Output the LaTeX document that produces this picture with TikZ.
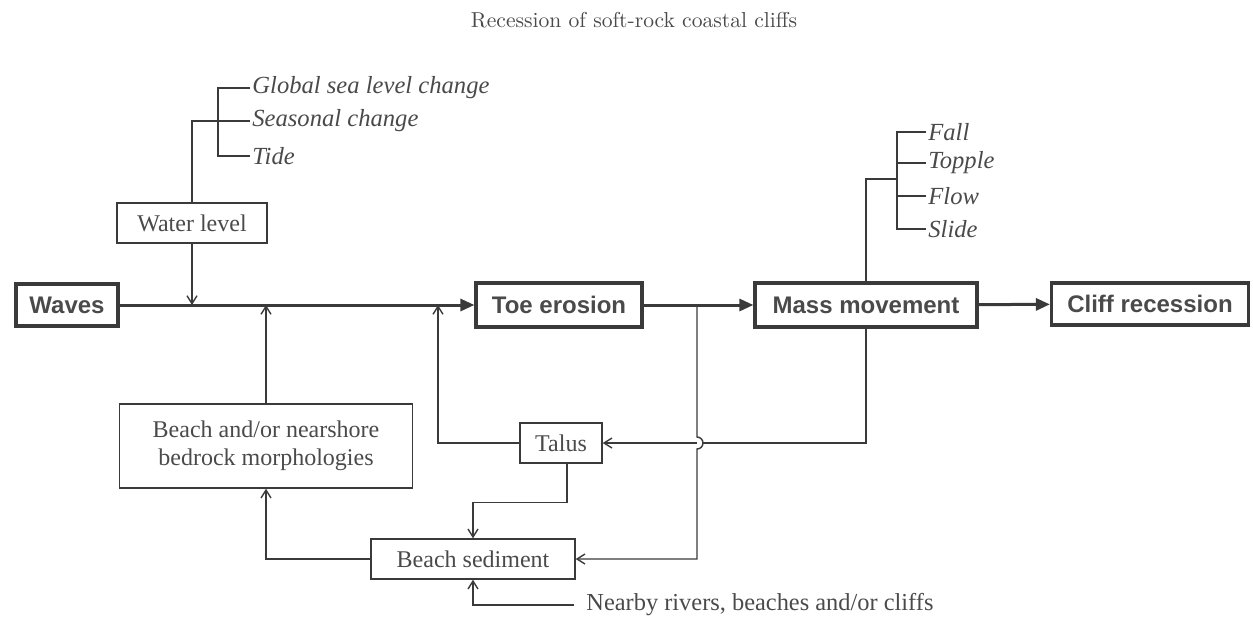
\documentclass[tikz,border=0pt]{standalone}
\usepackage{fontspec}
\usepackage{xcolor}
\usepackage{tikz}
\usetikzlibrary{arrows.meta}
\newfontfamily\serifrm{Liberation Serif}
\newfontfamily\sansbf{Liberation Sans}[BoldFont={Liberation Sans Bold}]
\definecolor{ink}{HTML}{3A3A3A}
\definecolor{txt}{HTML}{4A4A4A}

\begin{document}
\begin{tikzpicture}[
  x=0.5pt, y=-0.5pt,
  mainbox/.style={draw=ink, line width=1.6pt, inner sep=0pt, font=\sansbf\fontsize{12}{14}\selectfont\bfseries, text=txt},
  factor/.style={draw=ink, line width=0.7pt, inner sep=0pt, font=\serifrm\fontsize{12}{13.8}\selectfont, text=txt, align=center},
  item/.style={anchor=west, inner sep=1pt, font=\serifrm\itshape\fontsize{12.3}{14}\selectfont, text=txt},
  flow/.style={draw=ink, line width=1.5pt, -{Triangle[length=7pt,width=6pt]}},
  link/.style={draw=ink, line width=0.7pt, -{Straight Barb[length=4pt,width=5pt]}},
  tick/.style={draw=ink, line width=0.7pt},
]
  \useasboundingbox (0,0) rectangle (1253,617);

  % Title
  \node[font=\fontsize{10.8}{13}\selectfont, text=txt] (title) at (634,20) {Recession of soft-rock coastal cliffs};

  % Main chain
  \node[mainbox, minimum width=51pt, minimum height=21pt] (waves) at (67,305) {Waves};
  \node[mainbox, minimum width=83pt, minimum height=22pt] (toe) at (559,305) {Toe erosion};
  \node[mainbox, minimum width=111pt, minimum height=22pt] (mass) at (866,305) {Mass movement};
  \node[mainbox, minimum width=98.5pt, minimum height=21pt] (cliff) at (1150,304) {Cliff recession};

  % Factors
  \node[factor, minimum width=75pt, minimum height=20pt] (water) at (192,223) {Water level};
  \node[factor, minimum width=146.5pt, minimum height=42pt] (morph) at (266,446) {Beach and/or nearshore\\bedrock morphologies};
  \node[factor, minimum width=41pt, minimum height=20pt] (talus) at (561,443) {Talus};
  \node[factor, minimum width=102pt, minimum height=20pt] (sed) at (473,559) {Beach sediment};
  \node[anchor=west, inner xsep=6pt, inner ysep=1pt, font=\serifrm\fontsize{12.2}{14}\selectfont, text=txt] (near) at (574,605) {Nearby rivers, beaches and/or cliffs};

  % Water level items
  \node[item] (global) at (250,88) {Global sea level change};
  \node[item] (season) at (250,121) {Seasonal change};
  \node[item] (tide) at (250,156) {Tide};

  % Mass movement items
  \node[item] (fall) at (926,132) {Fall};
  \node[item] (topple) at (926,163) {Topple};
  \node[item] (mflow) at (926,196) {Flow};
  \node[item] (slide) at (926,229) {Slide};

  % Junctions
  \coordinate (wl) at (218,121);
  \coordinate (mm) at (897,179);
  \coordinate (tj) at (697,305);

  % Main arrows
  \draw[flow] (waves) -- (toe);
  \draw[flow] (toe) -- (mass);
  \draw[flow] (mass) -- (cliff);

  % Brackets
  \draw[tick] (global.west) -- ++(-32,0) |- (tide.west);
  \draw[tick] (season.west) -- (wl);
  \draw[tick] (water.north) |- (wl);
  \draw[tick] (fall.west) -- ++(-29,0) |- (slide.west);
  \draw[tick] (topple.west) -- ++(-29,0);
  \draw[tick] (mflow.west) -- ++(-29,0);
  \draw[tick] (mass.north) |- (mm);

  % Feedback links
  \draw[link] (water.south) -- (water.south |- waves.east);
  \draw[link] (morph.north) -- (morph.north |- waves.east);
  \draw[link] (talus.west) -| (438,305);
  \draw[link] (mass.south) |- (talus.east);
  \fill[white] (697,437) arc[start angle=90, end angle=-90, radius=3pt] -- cycle;
  \draw[link] (tj) -- (697,437) arc[start angle=90, end angle=-90, radius=3pt] |- (sed.east);
  \draw[link] ([xshift=3pt]talus.south) -- ++(0,39) -| (sed.north);
  \draw[link] (sed.west) -| (morph.south);
  \draw[link] (near.west) -| (sed.south);
\end{tikzpicture}
\end{document}
